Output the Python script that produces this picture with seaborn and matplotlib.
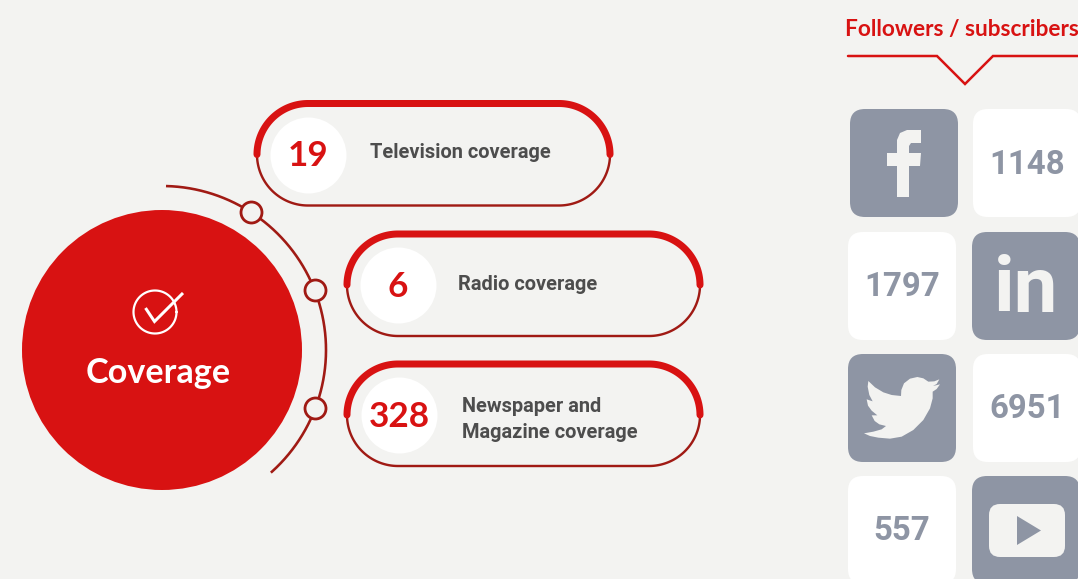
import numpy as np
import pandas as pd
import seaborn as sns
import matplotlib.pyplot as plt
from matplotlib.patches import Circle, FancyBboxPatch, Polygon

# data
coverage_labels = ['Television coverage', 'Radio coverage', 'Newspaper and\nMagazine coverage']
coverage_values = [19, 6, 328]
platforms = ['facebook', 'linkedin', 'twitter', 'youtube']
followers = [1148, 1797, 6951, 557]

# colours
BG = '#f3f3f1'
RED = '#d81212'
DARK_RED = '#a01a14'
GREY = '#8e95a4'
TEXT = '#4d4d4d'

# layout, one unit is one pixel
pill_left = [257, 347, 347]
pill_right = [610, 700, 700]
pill_mid = [154.5, 285, 415]
pill_r = 51
badge_x = [308, 398, 399]
label_x = [370, 458, 462]
label_y = [153, 284, 419.5]
card_top = [109, 232, 354, 476]
card_left = [850, 848, 848, 848]
card_right = [973, 972, 973, 972]
card_size = 108

sns.set_theme(style='white', rc={'figure.facecolor': BG, 'axes.facecolor': BG})
plt.rcParams['font.family'] = ['Lato', 'DejaVu Sans']

fig = plt.figure(figsize=(10.78, 5.79), dpi=100)
ax = fig.add_axes([0, 0, 1, 1])
ax.set_xlim(0, 1078)
ax.set_ylim(579, 0)
ax.axis('off')


def px(size):
    return size * 72 / 100


# big circle and the arc round it
ax.add_patch(Circle((162, 350), 140, color=RED, lw=0, zorder=2))
t = np.radians(np.linspace(-88.6, 48.4, 200))
ax.plot(162 + 164 * np.cos(t), 350 + 164 * np.sin(t), color=DARK_RED, lw=px(2.6), zorder=2,
        solid_capstyle='butt')
nodes = pd.DataFrame({'x': [251, 315, 315], 'y': [212, 290, 408]})
sns.scatterplot(data=nodes, x='x', y='y', s=px(21) ** 2, color=BG, edgecolor=DARK_RED,
                linewidth=px(2.8), ax=ax, zorder=3, legend=False)

# check icon
t = np.linspace(0, 2 * np.pi, 100)
ax.plot(155 + 21.5 * np.cos(t), 312 + 21.5 * np.sin(t), color='white', lw=px(2.2), zorder=4)
ax.plot([145.5, 154.5, 183], [308, 321.5, 293], color='white', lw=px(3), zorder=4,
        solid_joinstyle='miter', solid_capstyle='butt')
ax.text(158, 373, 'Coverage', color='white', fontsize=px(34.2), fontweight='bold',
        ha='center', va='center', zorder=4)

# pills
for i, label in enumerate(coverage_labels):
    x0, x1, y, r = pill_left[i], pill_right[i], pill_mid[i], pill_r
    a = np.radians(np.linspace(0, 90, 60))
    # lower half thin
    xs = np.r_[x1 - r + r * np.cos(a), x0 + r - r * np.sin(a)]
    ys = np.r_[y + r * np.sin(a), y + r * np.cos(a)]
    ax.plot(xs, ys, color=DARK_RED, lw=px(2.4), zorder=2)
    # upper half thick
    xs = np.r_[x0 + r - r * np.cos(a), x1 - r + r * np.sin(a)]
    ys = np.r_[y - r * np.sin(a), y - r * np.cos(a)]
    ax.plot(xs, ys, color=RED, lw=px(7), zorder=3, solid_capstyle='round')
    ax.text(label_x[i], label_y[i], label, color=TEXT, fontsize=px(20), family='Roboto',
            fontweight='bold', ha='left', va='center', linespacing=1.42, zorder=4)

badges = pd.DataFrame({'x': badge_x, 'y': pill_mid})
sns.scatterplot(data=badges, x='x', y='y', s=px(76) ** 2, color='white', linewidth=0, ax=ax,
                zorder=4, legend=False)
for i, v in enumerate(coverage_values):
    ax.text(badge_x[i], pill_mid[i] + 2, str(v), color=RED, fontsize=px(35), fontweight='bold',
            ha='center', va='center', zorder=5)

# followers header
ax.text(962, 29.5, 'Followers / subscribers', color=RED, fontsize=px(22.6), fontweight='bold',
        ha='center', va='center')
ax.plot([848, 937, 965, 993, 1078], [56, 56, 84, 56, 56], color=RED, lw=px(2.5),
        solid_joinstyle='miter')


def card(x, y, fill):
    ax.add_patch(FancyBboxPatch((x + 15, y + 15), card_size - 30, card_size - 30,
                                boxstyle='round,pad=15,rounding_size=15', fc=fill, ec='none', zorder=2))


# cards: icon and number swap sides from row to row
for i, name in enumerate(platforms):
    left, right, y = card_left[i], card_right[i], card_top[i]
    icon_x, num_x = (left, right) if i % 2 == 0 else (right, left)
    card(icon_x, y, GREY)
    card(num_x, y, 'white')
    ax.text(num_x + card_size / 2, y + card_size / 2 + 1.5, str(followers[i]),
            color=GREY, fontsize=px(33), family='Roboto', fontweight='bold',
            ha='center', va='center', zorder=3)

# facebook f
fb = [(897, 197), (909, 197), (909, 166), (920, 166), (921, 153), (909, 153), (909, 146), (911, 143),
      (921, 143), (921, 130), (907, 130), (900, 133), (897, 140), (897, 153), (887, 153), (887, 166), (897, 166)]
ax.add_patch(Polygon(fb, fc=BG, ec='none', zorder=3))

# linkedin in
ax.text(1026, 291, 'in', color=BG, fontsize=px(78), family='Roboto', fontweight='bold',
        ha='center', va='center', zorder=3)

# twitter bird, traced
bird = [(72, 280), (100, 275), (125, 268), (138, 258), (118, 253), (104, 243), (95, 226), (112, 226),
        (95, 212), (84, 197), (80, 178), (98, 184), (88, 165), (83, 140), (85, 123), (105, 142),
        (130, 157), (155, 165), (183, 168), (184, 150), (192, 130), (210, 116), (232, 111), (250, 115),
        (265, 125), (283, 124), (298, 118), (290, 132), (279, 138), (300, 133), (290, 147), (278, 155),
        (278, 175), (270, 205), (250, 240), (220, 270), (185, 290), (150, 296), (115, 293), (90, 288)]
ax.add_patch(Polygon([(840 + a / 3, 340 + b / 3) for a, b in bird], fc=BG, ec='none', zorder=3))

# youtube
ax.add_patch(FancyBboxPatch((1000, 515), 54, 31, boxstyle='round,pad=11,rounding_size=11', fc=BG, ec='none', zorder=3))
ax.add_patch(Polygon([(1017, 516), (1017, 545), (1041, 530.5)], fc=GREY, ec='none', zorder=4))

fig.savefig('out.png', dpi=100, facecolor=BG)
